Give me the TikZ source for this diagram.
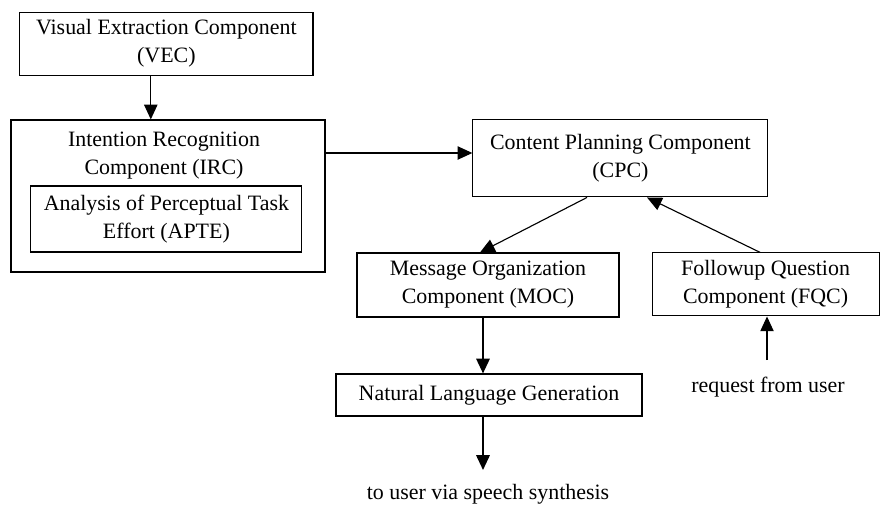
\documentclass[tikz,border=0pt]{standalone}
\usepackage{fontspec}
\setmainfont{Liberation Serif}
\usetikzlibrary{arrows.meta}
\tikzset{
  box/.style={draw, line width=0.8pt, inner sep=2pt, align=center, font=\fontsize{15.6}{20}\selectfont},
  txt/.style={inner sep=0pt, font=\fontsize{15.6}{20}\selectfont},
  arr/.style={line width=0.8pt, -{Triangle[length=10.5pt,width=9.5pt]}},
  thickarr/.style={line width=1.4pt, -{Triangle[length=10.5pt,width=9.5pt]}}
}
\begin{document}
\begin{tikzpicture}
            \useasboundingbox (0,0) rectangle (22,12.6);
            % boxes
            \node[box, minimum width=7.33cm, minimum height=1.575cm] (vec) at (4.16,11.51) {Visual Extraction Component\\(VEC)};
            \node[box, minimum width=7.85cm, minimum height=3.8cm] (irc) at (4.2,7.7) {};
            \node[txt, align=center] (irctxt) at (4.1,8.72) {Intention Recognition\\Component (IRC)};
            \node[box, minimum width=6.775cm, minimum height=1.65cm] (apte) at (4.16,7.125) {Analysis of Perceptual Task\\Effort (APTE)};
            \node[box, minimum width=7.375cm, minimum height=1.925cm] (cpc) at (15.51,8.64) {Content Planning Component\\(CPC)};
            \node[box, minimum width=6.55cm, minimum height=1.6cm] (moc) at (12.2,5.475) {Message Organization\\Component (MOC)};
            \node[box, minimum width=5.675cm, minimum height=1.575cm] (fqc) at (19.14,5.49) {Followup Question\\Component (FQC)};
            \node[box, minimum width=7.65cm, minimum height=1.05cm] (nlg) at (12.225,2.725) {Natural Language Generation};
            \node[txt, anchor=base] (req) at (19.2,2.78) {request from user};
            \node[txt, anchor=base] (user) at (12.2,0.12) {to user via speech synthesis};
            \coordinate (cin) at ([yshift=0.135cm]cpc.west);
            \coordinate (reqtop) at (19.175,3.6);
            \coordinate (out) at (12.075,0.85);
            % arrows
            \draw[arr] ([xshift=-0.39cm]vec.south) -- ([xshift=-0.39cm]vec.south |- irc.north);
            \draw[arr] (irc.east |- cin) -- (cin);
            \draw[arr] ([xshift=-0.835cm]cpc.south) -- ([xshift=-0.2cm]moc.north);
            \draw[arr] ([xshift=-0.14cm]fqc.north) -- ([xshift=0.665cm]cpc.south);
            \draw[thickarr] ([xshift=-0.125cm]moc.south) -- ([xshift=-0.125cm]moc.south |- nlg.north);
            \draw[thickarr] (nlg.south -| out) -- (out);
            \draw[arr] (reqtop) -- (reqtop |- fqc.south);
            \end{tikzpicture}
\end{document}
